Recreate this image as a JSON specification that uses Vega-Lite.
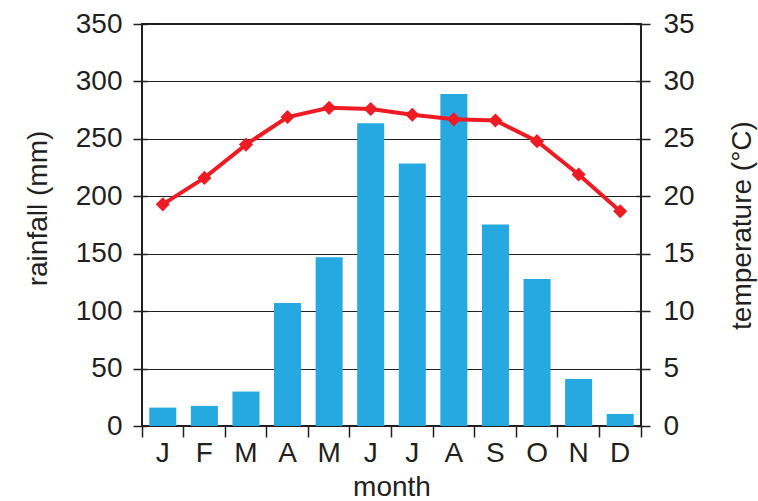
{
  "$schema": "https://vega.github.io/schema/vega-lite/v6.json",
  "autosize": {"type": "none"},
  "width": 499,
  "height": 402,
  "padding": {"left": 142, "top": 24, "right": 117, "bottom": 75},
  "config": {
    "font": "Liberation Sans",
    "view": {"stroke": "#231F20", "strokeWidth": 2},
    "axis": {
      "labelFont": "Liberation Sans",
      "titleFont": "Liberation Sans",
      "labelFontSize": 28,
      "titleFontSize": 28,
      "titleFontWeight": "normal",
      "labelColor": "#231F20",
      "titleColor": "#231F20",
      "tickColor": "#231F20",
      "domainColor": "#231F20",
      "tickWidth": 1.5
    }
  },
  "data": {
    "values": [
      {"month": "J", "order": 1, "rainfall": 16, "temperature": 19.3},
      {"month": "F", "order": 2, "rainfall": 17.5, "temperature": 21.6},
      {"month": "M", "order": 3, "rainfall": 30, "temperature": 24.5},
      {"month": "A", "order": 4, "rainfall": 107, "temperature": 26.9},
      {"month": "M ", "order": 5, "rainfall": 147, "temperature": 27.7},
      {"month": "J ", "order": 6, "rainfall": 263.5, "temperature": 27.6},
      {"month": "J  ", "order": 7, "rainfall": 228.5, "temperature": 27.1},
      {"month": "A ", "order": 8, "rainfall": 289, "temperature": 26.7},
      {"month": "S", "order": 9, "rainfall": 175.5, "temperature": 26.6},
      {"month": "O", "order": 10, "rainfall": 128, "temperature": 24.8},
      {"month": "N", "order": 11, "rainfall": 41, "temperature": 21.9},
      {"month": "D", "order": 12, "rainfall": 10.5, "temperature": 18.7}
    ]
  },
  "encoding": {
    "x": {
      "field": "month",
      "type": "ordinal",
      "sort": {"field": "order"},
      "scale": {"paddingInner": 0, "paddingOuter": 0},
      "axis": {
        "title": "month",
        "labelAngle": 0,
        "domain": false,
        "tickSize": 11,
        "bandPosition": 1,
        "tickExtra": true,
        "labelPadding": 2,
        "titlePadding": 6
      }
    }
  },
  "layer": [
    {
      "mark": {"type": "bar", "color": "#25A9E0", "width": {"band": 0.65}},
      "encoding": {
        "y": {
          "field": "rainfall",
          "type": "quantitative",
          "scale": {"domain": [0, 350], "nice": false},
          "axis": {
            "title": "rainfall (mm)",
            "values": [0, 50, 100, 150, 200, 250, 300, 350],
            "domain": false,
            "offset": -5,
            "tickSize": 14,
            "labelPadding": 11,
            "grid": true,
            "gridColor": "#231F20",
            "gridWidth": 1.2,
            "gridOpacity": 1,
            "titlePadding": 23,
            "titleY": 184
          }
        }
      }
    },
    {
      "mark": {
        "type": "line",
        "color": "#ED1C24",
        "strokeWidth": 4,
        "point": {"shape": "diamond", "filled": true, "size": 200, "color": "#ED1C24", "opacity": 1}
      },
      "encoding": {
        "y": {
          "field": "temperature",
          "type": "quantitative",
          "scale": {"domain": [0, 35], "nice": false},
          "axis": {
            "orient": "right",
            "title": "temperature (°C)",
            "values": [0, 5, 10, 15, 20, 25, 30, 35],
            "domain": false,
            "offset": -5,
            "tickSize": 14,
            "labelPadding": 13,
            "grid": false,
            "titleAngle": 270,
            "titleBaseline": "top",
            "titlePadding": 34
          }
        }
      }
    }
  ],
  "resolve": {"scale": {"y": "independent"}}
}
